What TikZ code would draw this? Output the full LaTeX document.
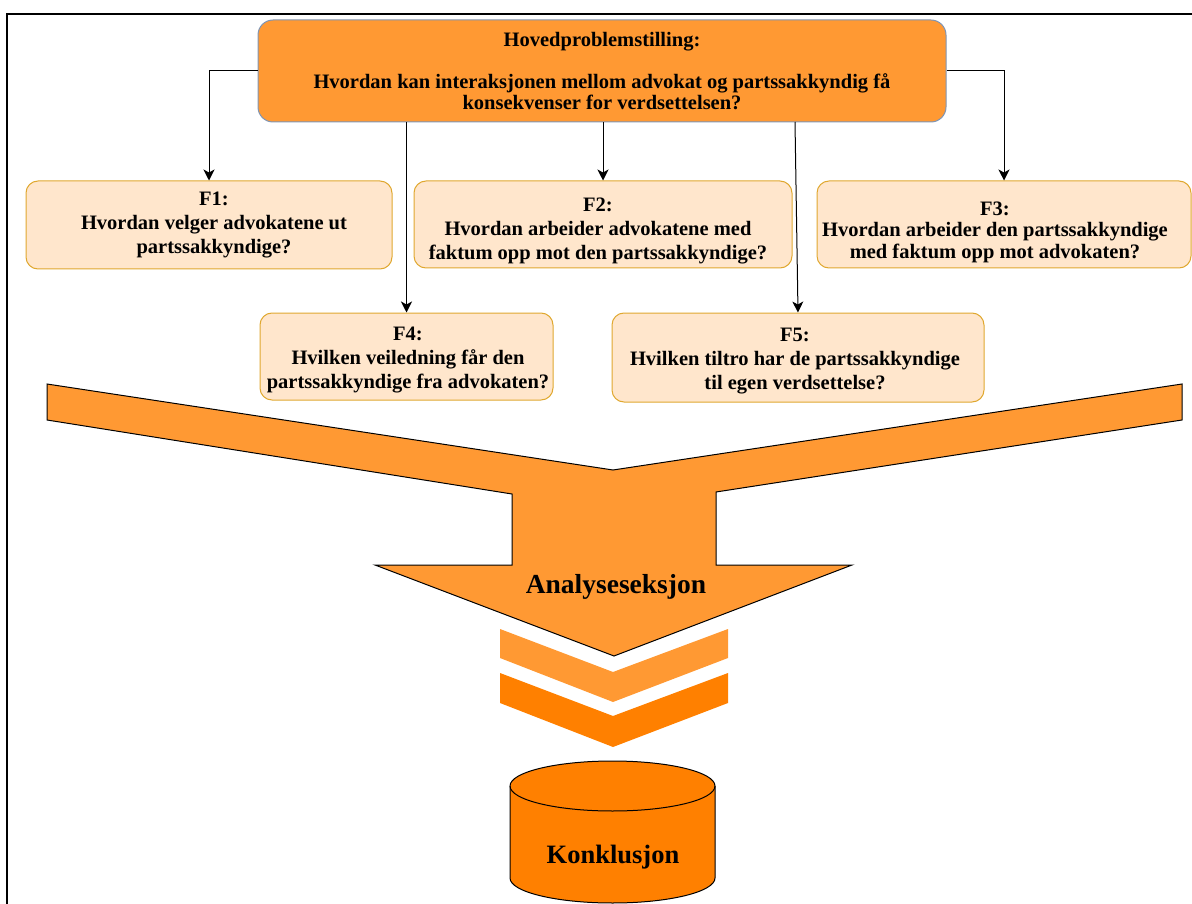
\documentclass[tikz,border=0pt]{standalone}
\usepackage{fontspec}
\setmainfont{Liberation Serif}
\usetikzlibrary{arrows.meta}
\definecolor{mainfill}{HTML}{FF9933}
\definecolor{mainstroke}{HTML}{7F95B5}
\definecolor{qfill}{HTML}{FFE6CC}
\definecolor{qstroke}{HTML}{E0A830}
\definecolor{darkor}{HTML}{FF8000}
\tikzset{
  mainbox/.style={draw=mainstroke, fill=mainfill, rounded corners=15pt, line width=1pt, inner sep=0pt, align=center, font=\fontsize{20.5}{21}\selectfont\bfseries},
  qbox/.style={draw=qstroke, fill=qfill, rounded corners=12pt, line width=1pt, inner sep=0pt},
  qtext/.style={inner sep=0pt, align=center, font=\fontsize{20.5}{24}\selectfont\bfseries},
  conn/.style={draw=black, line width=1pt, -{Stealth[length=11pt,width=11pt,inset=3pt]}},
  bigarrow/.style={fill=mainfill, draw=black, line width=1pt, line join=miter},
  lbl/.style={inner sep=0pt}
}
\begin{document}
\begin{tikzpicture}[x=1pt, y=-1pt]
\useasboundingbox (0,0) rectangle (1192,904);
\draw[line width=2pt] (7,904) -- (7,14) -- (1192,14);

% big arrow
\draw[bigarrow] (47,384) -- (613,470) -- (1182,384) -- (1182,420) -- (716,492) -- (716,565) -- (852,565) -- (614,656) -- (375,565) -- (512,565) -- (512,494) -- (47,420) -- cycle;
\node[lbl, font=\fontsize{27.5}{30}\selectfont\bfseries] (ana) at (616,587) {Analyseseksjon};

% chevrons
\fill[mainfill] (500,629) -- (613,672) -- (728,629) -- (728,658) -- (613,702) -- (500,658) -- cycle;
\fill[darkor] (500,673) -- (613,716) -- (728,673) -- (728,703) -- (613,747) -- (500,703) -- cycle;

% cylinder
\filldraw[fill=darkor, draw=black, line width=1pt] (510,786) -- (510,878) arc[start angle=180, end angle=0, x radius=102.5, y radius=25] -- (715,786) arc[start angle=0, end angle=-180, x radius=102.5, y radius=25] -- cycle;
\draw[line width=1pt] (510,786) arc[start angle=180, end angle=0, x radius=102.5, y radius=25];
\node[lbl, font=\fontsize{26.5}{30}\selectfont\bfseries] (konk) at (613,857) {Konklusjon};

% boxes
\node[mainbox, minimum width=688pt, minimum height=102pt] (main) at (602,71)
  {Hovedproblemstilling:\\ \\Hvordan kan interaksjonen mellom advokat og partssakkyndig få\\konsekvenser for verdsettelsen?};
\node[qbox, minimum width=366pt, minimum height=88pt] (f1) at (209,225) {};
\node[qtext] (f1t) at (214,224.5) {F1:\\Hvordan velger advokatene ut\\partssakkyndige?};
\node[qbox, minimum width=378pt, minimum height=87pt] (f2) at (603,224.5) {};
\node[qtext] (f2t) at (598,231) {F2:\\Hvordan arbeider advokatene med\\faktum opp mot den partssakkyndige?};
\node[qbox, minimum width=374pt, minimum height=87pt] (f3) at (1004,224.5) {};
\node[qtext, font=\fontsize{20.5}{21.5}\selectfont\bfseries] (f3t) at (995,232) {F3:\\Hvordan arbeider den partssakkyndige\\med faktum opp mot advokaten?};
\node[qbox, minimum width=293pt, minimum height=87pt] (f4) at (406.5,356.5) {};
\node[qtext] (f4t) at (408,360.5) {F4:\\Hvilken veiledning får den\\partssakkyndige fra advokaten?};
\node[qbox, minimum width=372pt, minimum height=89pt] (f5) at (798,357.5) {};
\node[qtext] (f5t) at (795,361) {F5:\\Hvilken tiltro har de partssakkyndige\\til egen verdsettelse?};

% connectors
\coordinate (m5) at (795,122);
\draw[conn] (main.west) -| (f1.north);
\draw[conn] (main.east) -| (f3.north);
\draw[conn] (main.south -| f2.north) -- (f2.north);
\draw[conn] (main.south -| f4.north) -- (f4.north);
\draw[conn] (m5) -- (f5.north);
\end{tikzpicture}
\end{document}
